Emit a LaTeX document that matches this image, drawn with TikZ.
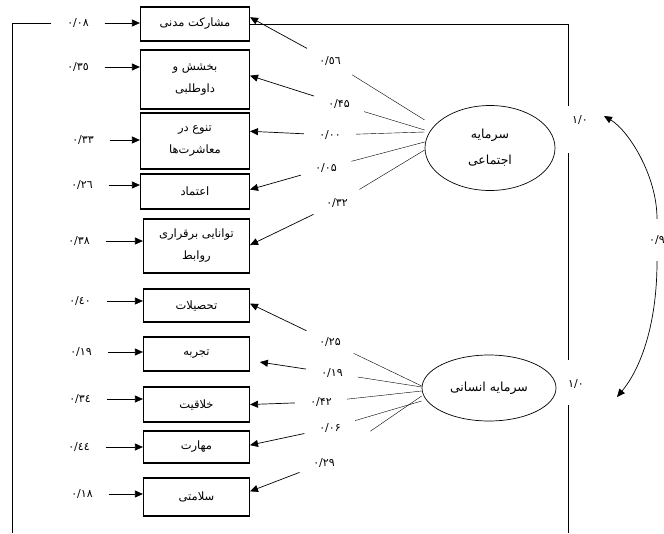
\documentclass[tikz,border=0pt]{standalone}
\usepackage{fontspec}
\newfontfamily\fa[Script=Arabic]{DejaVu Sans}
\TeXXeTstate=1
\usetikzlibrary{shapes,arrows.meta,positioning,calc}

\begin{document}
\begin{tikzpicture}[x=1pt, y=-1pt,
  ind/.style={draw, line width=1.1pt, minimum width=108pt, anchor=east, font=\fa\fontsize{11.5}{13}\selectfont, align=center},
  lat/.style={draw, ellipse, line width=0.7pt, inner sep=0pt, font=\fa\fontsize{12.5}{14}\selectfont, align=center},
  num/.style={font=\fa\fontsize{11}{13}\selectfont, inner sep=1pt},
  err/.style={num, outer sep=15pt},
  coef/.style={num, circle, inner sep=0pt, minimum size=52pt},
  arrow/.style={-{Triangle[length=8pt,width=7pt]}, line width=0.7pt},
  rim/.style={line width=0.7pt},
]
\useasboundingbox (0,0) rectangle (664,533);

% observed variables
\node[ind, minimum width=109pt, minimum height=34pt] (b1) at (250,24) {\beginR مشارکت مدنی\endR};
\node[ind, minimum width=109pt, minimum height=59pt] (b2) at (250,79.5) {\beginR بخشش و\endR\\[9pt]\beginR داوطلبی\endR};
\node[ind, minimum width=109pt, minimum height=56pt] (b3) at (250,141) {\beginR تنوع در\endR\\[9pt]\beginR معاشرت‌ها\endR};
\node[ind, minimum width=109pt, minimum height=35pt] (b4) at (250,191.5) {\beginR اعتماد\endR};
\node[ind, minimum width=106pt, minimum height=54pt] (b5) at (250,246) {\beginR توانایی برقراری\endR\\[9pt]\beginR روابط\endR};
\node[ind, minimum width=106pt, minimum height=33pt] (b6) at (250,305.5) {\beginR تحصیلات\endR};
\node[ind, minimum width=106pt, minimum height=34pt] (b7) at (250,354) {\beginR تجربه\endR};
\node[ind, minimum width=106pt, minimum height=35pt] (b8) at (250,404.5) {\beginR خلاقیت\endR};
\node[ind, minimum width=106pt, minimum height=32pt] (b9) at (250,447) {\beginR مهارت\endR};
\node[ind, minimum width=106pt, minimum height=38pt] (b10) at (250,497) {\beginR سلامتی\endR};

% latent variables
\node[lat, minimum width=130pt, minimum height=85pt] (soc) at (490,148) {\beginR سرمایه\endR\\[12pt]\beginR اجتماعی\endR};
\node[lat, minimum width=134pt, minimum height=66pt] (hum) at (489,388) {\beginR سرمایه انسانی\endR};

% error terms
\node[err] (e1) at (78,23) {۰/۰۸};
\node[err] (e2) at (78,67) {٠/٣٥};
\node[err] (e3) at (83,140) {۰/۳۳};
\node[err] (e4) at (82,185) {٠/٢٦};
\node[err] (e5) at (79,241) {۰/۳۸};
\node[err] (e6) at (80,301) {٠/٤٠};
\node[err] (e7) at (81,352) {۰/۱۹};
\node[err] (e8) at (80,399) {٠/٣٤};
\node[err] (e9) at (79,447) {٠/٤٤};
\node[err] (e10) at (82,494) {۰/۱۸};

\draw[arrow] (e1) -- (e1 -| b1.west);
\draw[arrow] (e2) -- (e2 -| b2.west);
\draw[arrow] (e3) -- (e3 -| b3.west);
\draw[arrow] (e4) -- (e4 -| b4.west);
\draw[arrow] (e5) -- (e5 -| b5.west);
\draw[arrow] (e6) -- (e6 -| b6.west);
\draw[arrow] (e7) -- (e7 -| b7.west);
\draw[arrow] (e8) -- (e8 -| b8.west);
\draw[arrow] (e9) -- (e9 -| b9.west);
\draw[arrow] (e10) -- (e10 -| b10.west);

% loadings of social capital
\node[coef] (c1) at (330,61) {٠/٥٦};
\node[coef] (c2) at (339,104) {۰/۴۵};
\node[coef] (c3) at (330,135) {۰/۰۰};
\node[coef] (c4) at (326,168) {۰/۰۵};
\node[coef] (c5) at (337,203) {۰/۳۲};

\draw ([yshift=28pt]soc.west) -- (c1);
\draw ([yshift=18pt]soc.west) -- (c2);
\draw ([yshift=16pt]soc.west) -- (c3);
\draw ([yshift=6pt]soc.west) -- (c4);
\draw ([yshift=-2pt]soc.west) -- (c5);
\draw[arrow] (c1) -- (b1.7);
\draw[arrow] (c2) -- (b2.4);
\draw[arrow] (c3) -- (b3.10);
\draw[arrow] (c4) -- (b4.2);
\draw[arrow] (c5) -- (b5.1);

% loadings of human capital
\node[coef] (c6) at (330,342) {۰/۲۵};
\node[coef] (c7) at (332,373) {۰/۱۹};
\node[coef] (c8) at (321,402) {۰/۴۲};
\node[coef] (c9) at (330,428) {۰/۰۶};
\node[coef] (c10) at (324,463) {۰/۲۹};

\draw ([yshift=2pt]hum.west) -- (c6);
\draw ([yshift=1pt]hum.west) -- (c7);
\draw ([yshift=-3pt]hum.west) -- (c8);
\draw ([yshift=-13pt]hum.west) -- (c9);
\draw[shorten >=30pt] ([yshift=-8pt]hum.west) -- (c10);
\draw[arrow] (c6) -- (b6.2);
\draw[arrow, shorten >=10pt] (c7) -- (b7.-7);
\draw[arrow] (c8) -- (b8.east);
\draw[arrow] (c9) -- (b9.2);
\draw[arrow] (c10) -- (b10.6);

% frame and variances
\coordinate (fa) at (568,106);
\coordinate (fb) at (568,153);
\coordinate (fc) at (568,360);
\coordinate (fd) at (568,405);
\draw[rim] (e1) -| (12,533);
\draw[rim] (b1.east) -| (fa);
\draw[rim] (fb) -- (fc);
\draw[rim] (fd) -- (568,533);
\node[num] (v1) at (580,120) {۱/۰};
\node[num] (v2) at (576,384) {۱/۰};

% correlation
\node[num, minimum height=42pt] (r09) at (657,240) {۰/۹};
\coordinate (ta) at (604,116);
\coordinate (tb) at (617,397);
\draw[arrow] (r09.north) .. controls (657,175) and (628,130) .. (ta);
\draw[arrow] (r09.south) .. controls (657,330) and (638,372) .. (tb);
\end{tikzpicture}
\end{document}
